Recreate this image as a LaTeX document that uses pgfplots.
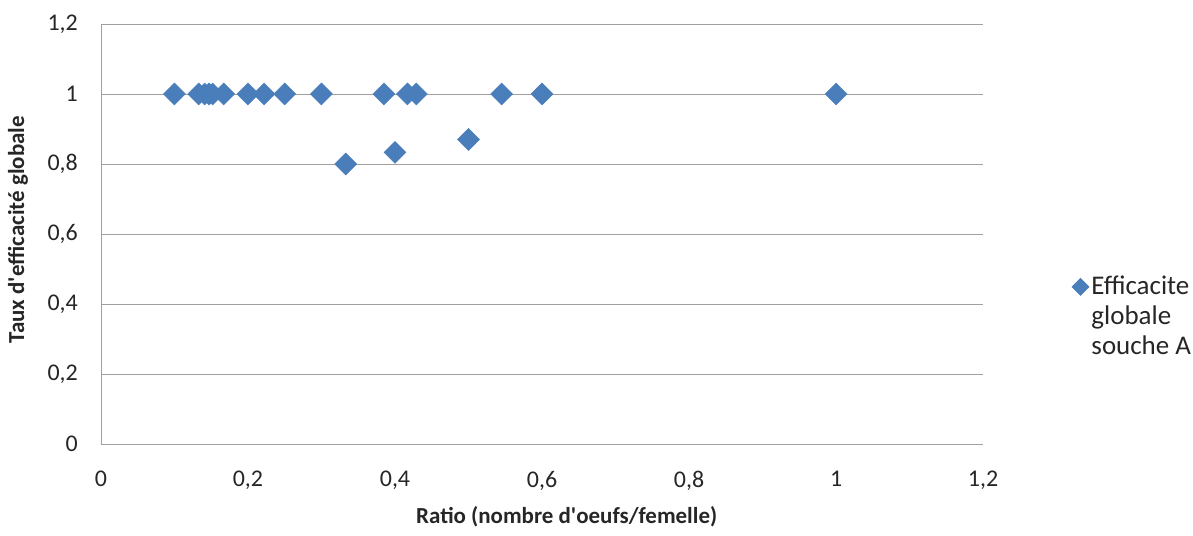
\documentclass[border=0pt]{standalone}
\usepackage{pgfplots}
\usepackage{fontspec}
\setmainfont{Carlito}
\pgfplotsset{compat=1.18}
\definecolor{xlblue}{HTML}{4A7EBB}
\definecolor{gridgray}{HTML}{A0A0A0}

\begin{document}
\fontsize{24}{29}\selectfont
\begin{tikzpicture}
\begin{axis}[
    scale only axis,
    width=884pt, height=421pt,
    xmin=0, xmax=1.2,
    ymin=0, ymax=1.2,
    xtick={0,0.2,...,1.2},
    ytick={0,0.2,...,1.2},
    axis x line*=bottom,
    axis y line*=left,
    axis line style={gridgray, -},
    major tick length=0pt,
    ymajorgrids,
    grid style={gridgray, line width=0.8pt},
    /pgf/number format/use comma,
    /pgf/number format/assume math mode=true,
    tick label style={font=\fontsize{24}{29}\selectfont, text=black!85},
    xticklabel style={anchor=north, yshift=-19pt},
    yticklabel style={anchor=east, xshift=-15pt},
    xlabel={\textbf{Ratio (nombre d\textquotesingle oeufs/femelle)}},
    ylabel={\textbf{Taux d\textquotesingle efficacité globale}},
    label style={font=\fontsize{23}{28}\selectfont, text=black!85},
    xlabel style={at={(axis description cs:0.528,-0.173)}, anchor=center},
    ylabel style={at={(axis description cs:-0.094,0.51)}, anchor=center},
    legend style={at={(1.100,0.412)}, anchor=north west, draw=none,
        font=\fontsize{27}{30}\selectfont, text=black!85, inner sep=0pt},
    legend cell align=left,
    legend image code/.code={\node[fill=xlblue, rotate=45, minimum size=12.7pt,
        inner sep=0pt] at (0.2cm,-6pt) {};},
    after end axis/.code={\path (rel axis cs:0,1) ++(0,24pt);},
]
\addplot[only marks, mark=square*, mark size=7.8pt,
    mark options={rotate=45, fill=xlblue, draw=xlblue}]
coordinates {
(0.100,1) (0.133,1) (0.141,1) (0.147,1) (0.152,1) (0.167,1)
(0.200,1) (0.222,1) (0.250,1) (0.300,1) (0.333,0.8) (0.385,1)
(0.400,0.833) (0.417,1) (0.429,1) (0.500,0.87) (0.545,1)
(0.600,1) (1.000,1)
};
\addlegendentry{\begin{tabular}[t]{@{}l@{}}Efficacite\\globale\\souche A\end{tabular}}
\end{axis}
\end{tikzpicture}
\end{document}
